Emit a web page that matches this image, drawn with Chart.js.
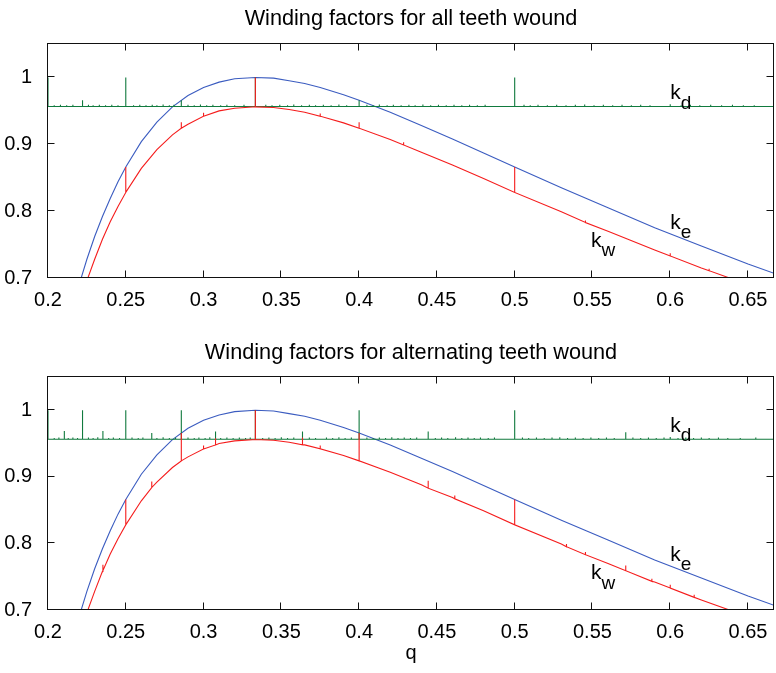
<!DOCTYPE html>
<html>
<head>
<meta charset="utf-8">
<script src="https://cdn.jsdelivr.net/npm/chart.js@4.4.1/dist/chart.umd.min.js"></script>
<style>
body{margin:0;background:#fff;}
canvas{position:absolute;left:0;}
#top{top:0;}
#bot{top:330px;}
</style>
</head>
<body>
<canvas id="top" width="776" height="330"></canvas>
<canvas id="bot" width="776" height="343"></canvas>
<script>
const xTicks=[0.2,0.25,0.3,0.35,0.4,0.45,0.5,0.55,0.6,0.65];
const yTicks=[0.7,0.8,0.9,1];

// k_e, smooth curve (same in both plots)
const qE=[0.2,0.205,0.21,0.215,0.22,0.225,0.23,0.235,0.24,0.245,0.25,0.26,0.27,0.28,0.29,0.30,0.31,0.32,0.3333,0.345,0.355,0.365,0.375,0.39,0.40,0.42,0.44,0.46,0.48,0.50,0.53,0.56,0.59,0.62,0.65,0.6667];
const kE=[0.500,0.555,0.604,0.649,0.690,0.728,0.762,0.792,0.819,0.844,0.866,0.904,0.933,0.956,0.973,0.985,0.993,0.998,1.000,0.999,0.995,0.991,0.985,0.974,0.966,0.948,0.928,0.908,0.887,0.866,0.835,0.805,0.775,0.748,0.721,0.707];

// k_w, lower curve without its spikes
const qW=qE;
const kW=[0.478,0.531,0.578,0.621,0.660,0.696,0.728,0.758,0.784,0.807,0.828,0.864,0.892,0.914,0.930,0.942,0.950,0.954,0.956,0.955,0.952,0.948,0.942,0.932,0.924,0.907,0.888,0.869,0.849,0.828,0.799,0.770,0.742,0.715,0.690,0.676];

// k_d level line
const kdBase=0.9566;
const qD=[0.2,0.6667];

// top plot: all teeth wound
const kdSpikeQTop=[0.2,0.2222,0.25,0.2857,0.3333,0.4,0.5,0.6,0.6667];
const kdSpikeKTop=[1.0,0.966,1.0,0.966,1.0,0.966,1.0,0.960,0.962];
const kdNoiseQTop=[0.204,0.208,0.212,0.216,0.226,0.229,0.233,0.237,0.241,0.245,0.255,0.259,0.263,0.267,0.270,0.274,0.278,0.281,0.290,0.294,0.298,0.302,0.306,0.311,0.315,0.320,0.326,0.340,0.344,0.349,0.354,0.358,0.363,0.368,0.372,0.377,0.382,0.387,0.392,0.405,0.409,0.413,0.418,0.422,0.427,0.432,0.436,0.441,0.446,0.451,0.456,0.461,0.466,0.471,0.476,0.481,0.506,0.510,0.515,0.521,0.527,0.533,0.539,0.545,0.551,0.557,0.563,0.569,0.575,0.581,0.587,0.607,0.613,0.619,0.626,0.633,0.640,0.647,0.654];
const kdNoiseKTop=[0.9585,0.959,0.9585,0.959,0.959,0.9585,0.959,0.9585,0.959,0.9585,0.9585,0.959,0.9585,0.959,0.9585,0.9595,0.9585,0.959,0.959,0.9585,0.9595,0.9585,0.959,0.9585,0.959,0.9585,0.959,0.959,0.9585,0.959,0.9585,0.9595,0.9585,0.959,0.9585,0.959,0.9585,0.9595,0.9585,0.959,0.9585,0.9595,0.9585,0.959,0.9585,0.959,0.9585,0.9595,0.9585,0.959,0.9585,0.959,0.9585,0.959,0.9585,0.959,0.959,0.9585,0.959,0.9585,0.959,0.9585,0.959,0.9595,0.9585,0.959,0.9585,0.959,0.9585,0.959,0.9585,0.9585,0.959,0.9585,0.959,0.9585,0.959,0.9585,0.9585];
const kwSpikeQTop=[0.25,0.2857,0.3,0.3333,0.375,0.4,0.4286,0.5,0.5455,0.6,0.625];
const kwLowTop=[0.828,0.924,0.942,0.956,0.942,0.924,0.899,0.828,0.783,0.733,0.711];
const kwHighTop=[0.866,0.933,0.947,1.0,0.946,0.933,0.903,0.866,0.786,0.737,0.714];

// bottom plot: alternating teeth wound
const kdSpikeQBot=[0.2,0.2105,0.2222,0.2353,0.25,0.2667,0.2857,0.3077,0.3333,0.3636,0.4,0.4444,0.5,0.5714,0.6,0.6667];
const kdSpikeKBot=[1.0,0.969,1.0,0.969,1.0,0.966,1.0,0.968,1.0,0.968,1.0,0.968,1.0,0.967,0.960,1.0];
const kdNoiseQBot=[0.204,0.207,0.213,0.216,0.219,0.226,0.229,0.232,0.239,0.242,0.246,0.254,0.258,0.261,0.270,0.274,0.278,0.282,0.290,0.294,0.297,0.301,0.304,0.311,0.315,0.319,0.323,0.327,0.330,0.338,0.342,0.346,0.350,0.354,0.358,0.368,0.372,0.379,0.383,0.387,0.391,0.395,0.405,0.409,0.413,0.417,0.421,0.425,0.429,0.433,0.437,0.449,0.453,0.457,0.462,0.466,0.470,0.474,0.478,0.483,0.487,0.505,0.509,0.514,0.519,0.524,0.529,0.534,0.539,0.544,0.549,0.554,0.559,0.564,0.576,0.581,0.586,0.591,0.596,0.605,0.610,0.615,0.620,0.625,0.631,0.637,0.645,0.655];
const kdNoiseKBot=[0.9585,0.959,0.9585,0.959,0.9585,0.959,0.9585,0.9595,0.9585,0.959,0.9585,0.959,0.9585,0.959,0.9585,0.9595,0.9585,0.959,0.959,0.9585,0.959,0.9585,0.9595,0.9585,0.959,0.9585,0.959,0.9585,0.959,0.9585,0.959,0.9585,0.9595,0.9585,0.959,0.959,0.9585,0.959,0.9585,0.9595,0.9585,0.959,0.959,0.9585,0.959,0.9585,0.9595,0.9585,0.959,0.9585,0.959,0.9585,0.959,0.9585,0.9595,0.9585,0.959,0.9585,0.959,0.9585,0.959,0.959,0.9585,0.959,0.9585,0.959,0.9595,0.9585,0.959,0.9585,0.959,0.9585,0.959,0.9585,0.959,0.9585,0.959,0.9585,0.959,0.9585,0.959,0.9585,0.959,0.9585,0.959,0.9585,0.9585,0.959];
const kwSpikeQBot=[0.2353,0.25,0.2667,0.2857,0.3,0.3077,0.3333,0.3636,0.375,0.4,0.4444,0.4615,0.5,0.5333,0.5455,0.5714,0.5882,0.6,0.6154,0.6667];
const kwLowBot=[0.759,0.828,0.884,0.924,0.942,0.948,0.956,0.948,0.942,0.924,0.883,0.867,0.828,0.795,0.783,0.759,0.743,0.733,0.719,0.676];
const kwHighBot=[0.768,0.866,0.893,0.966,0.947,0.958,1.0,0.959,0.947,0.966,0.894,0.872,0.866,0.799,0.787,0.767,0.747,0.738,0.723,0.707];

const FONT='"Liberation Sans", Arial, Helvetica, sans-serif';
Chart.defaults.font.family=FONT;
Chart.defaults.color="#000";

function trace(q,k,sq,slo,shi){
    const pts=q.map((x,i)=>({x:x,y:k[i]}));
    sq.forEach((x,i)=>{
        pts.push({x:x,y:slo[i]},{x:x,y:shi[i]},{x:x,y:slo[i]});
    });
    return pts.sort((a,b)=>a.x-b.x);
}
function flat(q){
    return q.map(()=>kdBase);
}

const notes=[
    {k:"k",sub:"d",q:0.6,v:0.9675},
    {k:"k",sub:"e",q:0.6,v:0.774},
    {k:"k",sub:"w",q:0.549,v:0.7465}
];

const frame={
    id:"frame",
    afterDatasetsDraw(chart,args,opts){
        const ctx=chart.ctx;
        const a=chart.chartArea;
        const xs=chart.scales.x, ys=chart.scales.y;
        ctx.save();
        ctx.strokeStyle="#111";
        ctx.lineWidth=1;
        const l=Math.round(a.left)-0.5, r=Math.round(a.right)-0.5;
        const t=Math.round(a.top)-0.5, b=Math.round(a.bottom)-0.5;
        ctx.strokeRect(l,t,r-l,b-t);
        ctx.beginPath();
        xTicks.forEach(v=>{
            const px=Math.round(xs.getPixelForValue(v))-0.5;
            ctx.moveTo(px,b);ctx.lineTo(px,b-7);
            ctx.moveTo(px,t);ctx.lineTo(px,t+7);
        });
        yTicks.forEach(v=>{
            const py=Math.round(ys.getPixelForValue(v))-0.5;
            ctx.moveTo(l,py);ctx.lineTo(l+7,py);
            ctx.moveTo(r,py);ctx.lineTo(r-7,py);
        });
        ctx.stroke();
        ctx.fillStyle="#000";
        ctx.font="21.7px "+FONT;
        ctx.textAlign="center";
        ctx.textBaseline="alphabetic";
        ctx.fillText(opts.title,(a.left+a.right)/2,opts.titleY);
        ctx.textAlign="left";
        notes.forEach(n=>{
            const px=xs.getPixelForValue(n.q), py=ys.getPixelForValue(n.v);
            ctx.font="21px "+FONT;
            ctx.fillText(n.k,px,py);
            const w=ctx.measureText(n.k).width;
            ctx.font="19px "+FONT;
            ctx.fillText(n.sub,px+w,py+9.5);
        });
        ctx.restore();
    }
};

function makeChart(id,title,titleY,top,axisH,showQ,dQ,dK,nQ,nK,wQ,wLo,wHi){
    const green=trace(qD,flat(qD),dQ.concat(nQ),flat(dQ.concat(nQ)),dK.concat(nK));
    new Chart(document.getElementById(id),{
        type:"scatter",
        data:{
            datasets:[
                {data:trace(qW,kW,wQ,wLo,wHi),borderColor:"#f51c1c",borderWidth:1.1,showLine:true,pointRadius:0},
                {data:green,borderColor:"#117a3e",borderWidth:1.1,showLine:true,pointRadius:0},
                {data:trace(qE,kE,[],[],[]),borderColor:"#3b5cc0",borderWidth:1.1,showLine:true,pointRadius:0}
            ]
        },
        options:{
            responsive:false,
            animation:false,
            devicePixelRatio:1,
            layout:{padding:{top:top,right:2,left:0,bottom:0}},
            plugins:{
                legend:{display:false},
                tooltip:{enabled:false},
                frame:{title:title,titleY:titleY}
            },
            scales:{
                x:{
                    type:"linear",
                    min:0.2,
                    max:0.6667,
                    afterBuildTicks:s=>{s.ticks=xTicks.map(v=>({value:v}));},
                    afterFit:s=>{s.height=axisH;},
                    grid:{display:false},
                    border:{display:false},
                    ticks:{padding:2,font:{size:20},color:"#000",callback:v=>String(v)},
                    title:{display:showQ,text:"q",font:{size:20},color:"#000",padding:{top:0,bottom:8}}
                },
                y:{
                    min:0.7,
                    max:1.05,
                    afterBuildTicks:s=>{s.ticks=yTicks.map(v=>({value:v}));},
                    afterFit:s=>{s.width=48;},
                    grid:{display:false},
                    border:{display:false},
                    ticks:{padding:8,font:{size:20},color:"#000",callback:v=>String(v)}
                }
            }
        },
        plugins:[frame]
    });
}

makeChart("top","Winding factors for all teeth wound",25.3,44,52,false,
    kdSpikeQTop,kdSpikeKTop,kdNoiseQTop,kdNoiseKTop,kwSpikeQTop,kwLowTop,kwHighTop);
makeChart("bot","Winding factors for alternating teeth wound",29,47,63,true,
    kdSpikeQBot,kdSpikeKBot,kdNoiseQBot,kdNoiseKBot,kwSpikeQBot,kwLowBot,kwHighBot);
</script>
</body>
</html>
